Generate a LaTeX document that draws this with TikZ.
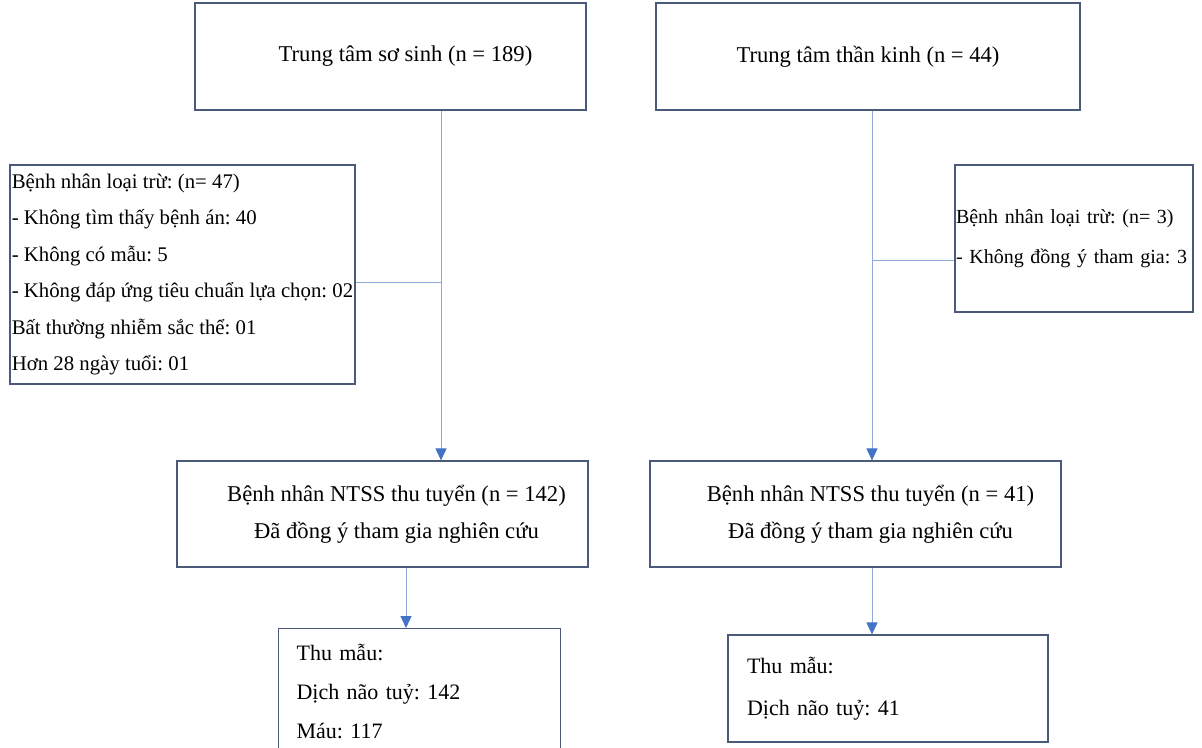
\documentclass[tikz,border=0pt]{standalone}
\usepackage{fontspec}
\setmainfont{Liberation Serif}
\usetikzlibrary{arrows.meta}
\definecolor{boxline}{HTML}{4A5A78}
\definecolor{linkline}{HTML}{8EAADB}
\definecolor{tipfill}{HTML}{4472C4}
\frenchspacing

\begin{document}
\begin{tikzpicture}[x=1pt, y=-1pt,
  box/.style={draw=boxline, line width=1.2pt, inner sep=0pt, font=\fontsize{22.6}{36.5}\selectfont},
  exclbox/.style={box, align=left, font=\fontsize{20.8}{36.5}\selectfont},
  link/.style={draw=linkline, line width=1pt},
  flow/.style={link, -{Triangle[width=11pt,length=12pt,color=tipfill]}}]

  \useasboundingbox (0,0) rectangle (1202,747);

  % the two centres
  \node[box, minimum width=391pt, minimum height=107pt] (nicu) at (390.5,56.5) {\hspace*{30pt}Trung tâm sơ sinh (n = 189)};
  \node[box, minimum width=424pt, minimum height=107pt] (neuro) at (868,56.5) {Trung tâm thần kinh (n = 44)};

  % excluded patients
  \node[exclbox, minimum width=345pt, minimum height=219pt] (exL) at (182.5,274.5)
    {Bệnh nhân loại trừ: (n= 47)\\- Không tìm thấy bệnh án: 40\\- Không có mẫu: 5\\- Không đáp ứng tiêu chuẩn lựa chọn: 02\\Bất thường nhiễm sắc thể: 01\\Hơn 28 ngày tuổi: 01};
  \node[exclbox, text width=236pt, inner xsep=1pt, minimum height=147pt,
    font=\fontsize{20}{40}\selectfont] (exR) at (1074,238.5)
    {Bệnh nhân loại trừ: (n= 3)\\- Không đồng ý tham gia: 3};

  % recruited patients
  \node[box, minimum width=411pt, minimum height=106pt, align=center] (recL) at (382.5,514)
    {\hspace*{28pt}Bệnh nhân NTSS thu tuyển (n = 142)\\\hspace*{28pt}Đã đồng ý tham gia nghiên cứu};
  \node[box, minimum width=411pt, minimum height=106pt, align=center] (recR) at (855.5,514)
    {\hspace*{30pt}Bệnh nhân NTSS thu tuyển (n = 41)\\\hspace*{30pt}Đã đồng ý tham gia nghiên cứu};

  % samples
  \node[box, anchor=north west, text width=246pt, inner xsep=18pt, minimum height=126pt, align=left,
    font=\fontsize{22}{39}\selectfont] (smpL) at (278,628)
    {Thu mẫu:\\Dịch não tuỷ: 142\\Máu: 117};
  \node[box, text width=282pt, inner xsep=19pt, minimum height=107pt, align=left,
    font=\fontsize{22}{42}\selectfont] (smpR) at (888,688.5)
    {Thu mẫu:\\Dịch não tuỷ: 41};

  \coordinate (jL) at (441,282);
  \coordinate (jR) at (872,260);
  \coordinate (sL) at (406,0);

  \draw[flow] (jL |- nicu.south) -- (jL |- recL.north);
  \draw[link] (exL.east |- jL) -- (jL);
  \draw[flow] (jR |- neuro.south) -- (jR |- recR.north);
  \draw[link] (jR) -- (exR.west |- jR);
  \draw[flow] (sL |- recL.south) -- (sL |- smpL.north);
  \draw[flow] (jR |- recR.south) -- (jR |- smpR.north);
\end{tikzpicture}
\end{document}
